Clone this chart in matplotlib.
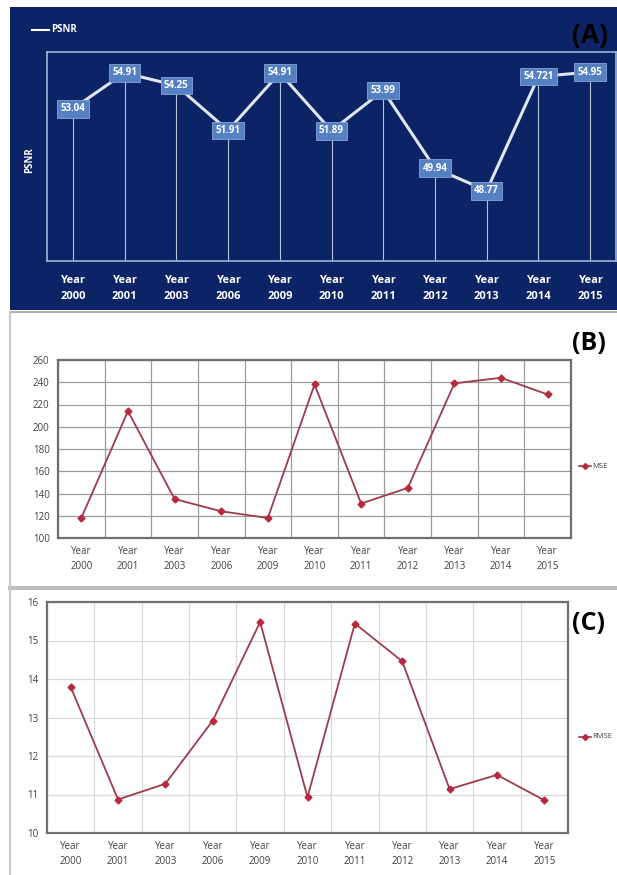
import matplotlib
matplotlib.use("Agg")
import matplotlib.pyplot as plt
from matplotlib.lines import Line2D
from matplotlib.patches import Rectangle

plt.rcParams['font.family'] = ['Open Sans', 'DejaVu Sans']

W, H = 617, 875

# 数据
years = ["2000", "2001", "2003", "2006", "2009", "2010", "2011", "2012", "2013", "2014", "2015"]
psnr = [53.04, 54.91, 54.25, 51.91, 54.91, 51.89, 53.99, 49.94, 48.77, 54.721, 54.95]
psnr_labels = ["53.04", "54.91", "54.25", "51.91", "54.91", "51.89", "53.99", "49.94", "48.77", "54.721", "54.95"]
mse = [118, 214, 135, 124, 118, 238, 131, 145, 239, 244, 229]
rmse = [13.79, 10.87, 11.28, 12.92, 15.48, 10.93, 15.44, 14.46, 11.14, 11.51, 10.85]

xlabels = ["Year\n" + y for y in years]
xs = list(range(len(years)))

NAVY = '#0c2466'
RED_LINE = '#9c3c4c'
RED_MARK = '#b8283f'


def px_axes(fig, left, top, right, bottom):
    # 像素坐标 -> figure 比例
    return fig.add_axes([left / W, 1 - bottom / H, (right - left) / W, (bottom - top) / H])


def fx(x):
    return x / W


def fy(y):
    return 1 - y / H


fig = plt.figure(figsize=(W / 100, H / 100), dpi=100)
fig.patch.set_facecolor('white')

# ---------- (A) PSNR ----------
fig.patches.append(Rectangle((fx(10), fy(310)), fx(617) - fx(10), fy(7) - fy(310),
                             transform=fig.transFigure, facecolor=NAVY, edgecolor='none', zorder=-5))

axA = px_axes(fig, 47, 52, 616, 261)
axA.set_facecolor(NAVY)
axA.plot(xs, psnr, color='#dfe6f2', lw=2.2, zorder=3)
axA.vlines(xs, 45.1, psnr, color='#b8c4dc', lw=0.8, zorder=2)
for x, v, lab in zip(xs, psnr, psnr_labels):
    axA.text(x, v, lab, ha='center', va='center', color='white', fontsize=7, fontweight='bold',
             bbox=dict(boxstyle='square,pad=0.35', facecolor='#5580c2', edgecolor='#86a4d8', lw=0.6),
             zorder=4)
axA.set_xlim(-0.5, 10.5)
axA.set_ylim(45.1, 56.0)
axA.set_yticks([])
axA.set_xticks(xs)
axA.set_xticklabels(xlabels, color='white', fontsize=8, fontweight='bold', linespacing=1.6)
axA.tick_params(axis='x', length=0, pad=10)
for s in axA.spines.values():
    s.set_color('#9fb3d9')
    s.set_linewidth(1.2)

fig.text(fx(30), fy(160), "PSNR", rotation=90, ha='center', va='center', color='white',
         fontsize=7, fontweight='bold')
fig.add_artist(Line2D([fx(32), fx(49)], [fy(30), fy(30)], transform=fig.transFigure,
                      color='white', lw=1.5))
fig.text(fx(51), fy(30), "PSNR", ha='left', va='center', color='white', fontsize=7, fontweight='bold')
fig.text(fx(572), fy(36), "(A)", ha='left', va='center', color='black', fontsize=19, fontweight='bold')

# 分隔线
fig.add_artist(Line2D([fx(10), fx(617)], [fy(312), fy(312)], transform=fig.transFigure,
                      color='#b0b0b0', lw=1.5))
fig.add_artist(Line2D([fx(10), fx(617)], [fy(588), fy(588)], transform=fig.transFigure,
                      color='#bdbdbd', lw=3))
fig.add_artist(Line2D([fx(10), fx(10)], [fy(312), fy(875)], transform=fig.transFigure,
                      color='#c8c8c8', lw=1.5))


def excel_panel(ax, vals, ylim, ystep, grid_color):
    ax.plot(xs, vals, color=RED_LINE, lw=1.3, marker='D', markersize=3.5,
            markerfacecolor=RED_MARK, markeredgecolor=RED_MARK, zorder=3)
    ax.set_xlim(-0.5, 10.5)
    ax.set_ylim(*ylim)
    ax.set_yticks(list(range(ylim[0], ylim[1] + 1, ystep)))
    ax.set_xticks(xs)
    ax.set_xticklabels(xlabels, fontsize=7, color='#404040', linespacing=1.5)
    ax.set_xticks([i - 0.5 for i in range(12)], minor=True)
    ax.tick_params(axis='x', which='both', length=0, pad=6)
    ax.tick_params(axis='y', length=0, labelsize=7, labelcolor='#404040', pad=6)
    ax.grid(True, axis='y', which='major', color=grid_color, lw=0.9)
    ax.grid(True, axis='x', which='minor', color=grid_color, lw=0.9)
    ax.set_axisbelow(True)
    for s in ax.spines.values():
        s.set_color('#707070')
        s.set_linewidth(1.6)


def side_legend(y, label):
    fig.add_artist(Line2D([fx(579), fx(591)], [fy(y), fy(y)], transform=fig.transFigure,
                          color=RED_LINE, lw=1.2))
    fig.add_artist(Line2D([fx(585)], [fy(y)], transform=fig.transFigure, marker='D',
                          markersize=3, color=RED_MARK, lw=0))
    fig.text(fx(592), fy(y), label, ha='left', va='center', fontsize=5.5, color='#404040')


# ---------- (B) MSE ----------
axB = px_axes(fig, 58, 360, 571, 538)
excel_panel(axB, mse, (100, 260), 20, '#9c9c9c')
side_legend(466, "MSE")
fig.text(fx(572), fy(344), "(B)", ha='left', va='center', color='black', fontsize=18, fontweight='bold')

# ---------- (C) RMSE ----------
axC = px_axes(fig, 47, 602, 568, 833)
excel_panel(axC, rmse, (10, 16), 1, '#d9d9d9')
side_legend(737, "RMSE")
fig.text(fx(572), fy(623), "(C)", ha='left', va='center', color='black', fontsize=18, fontweight='bold')

fig.savefig("out.png", dpi=100)
